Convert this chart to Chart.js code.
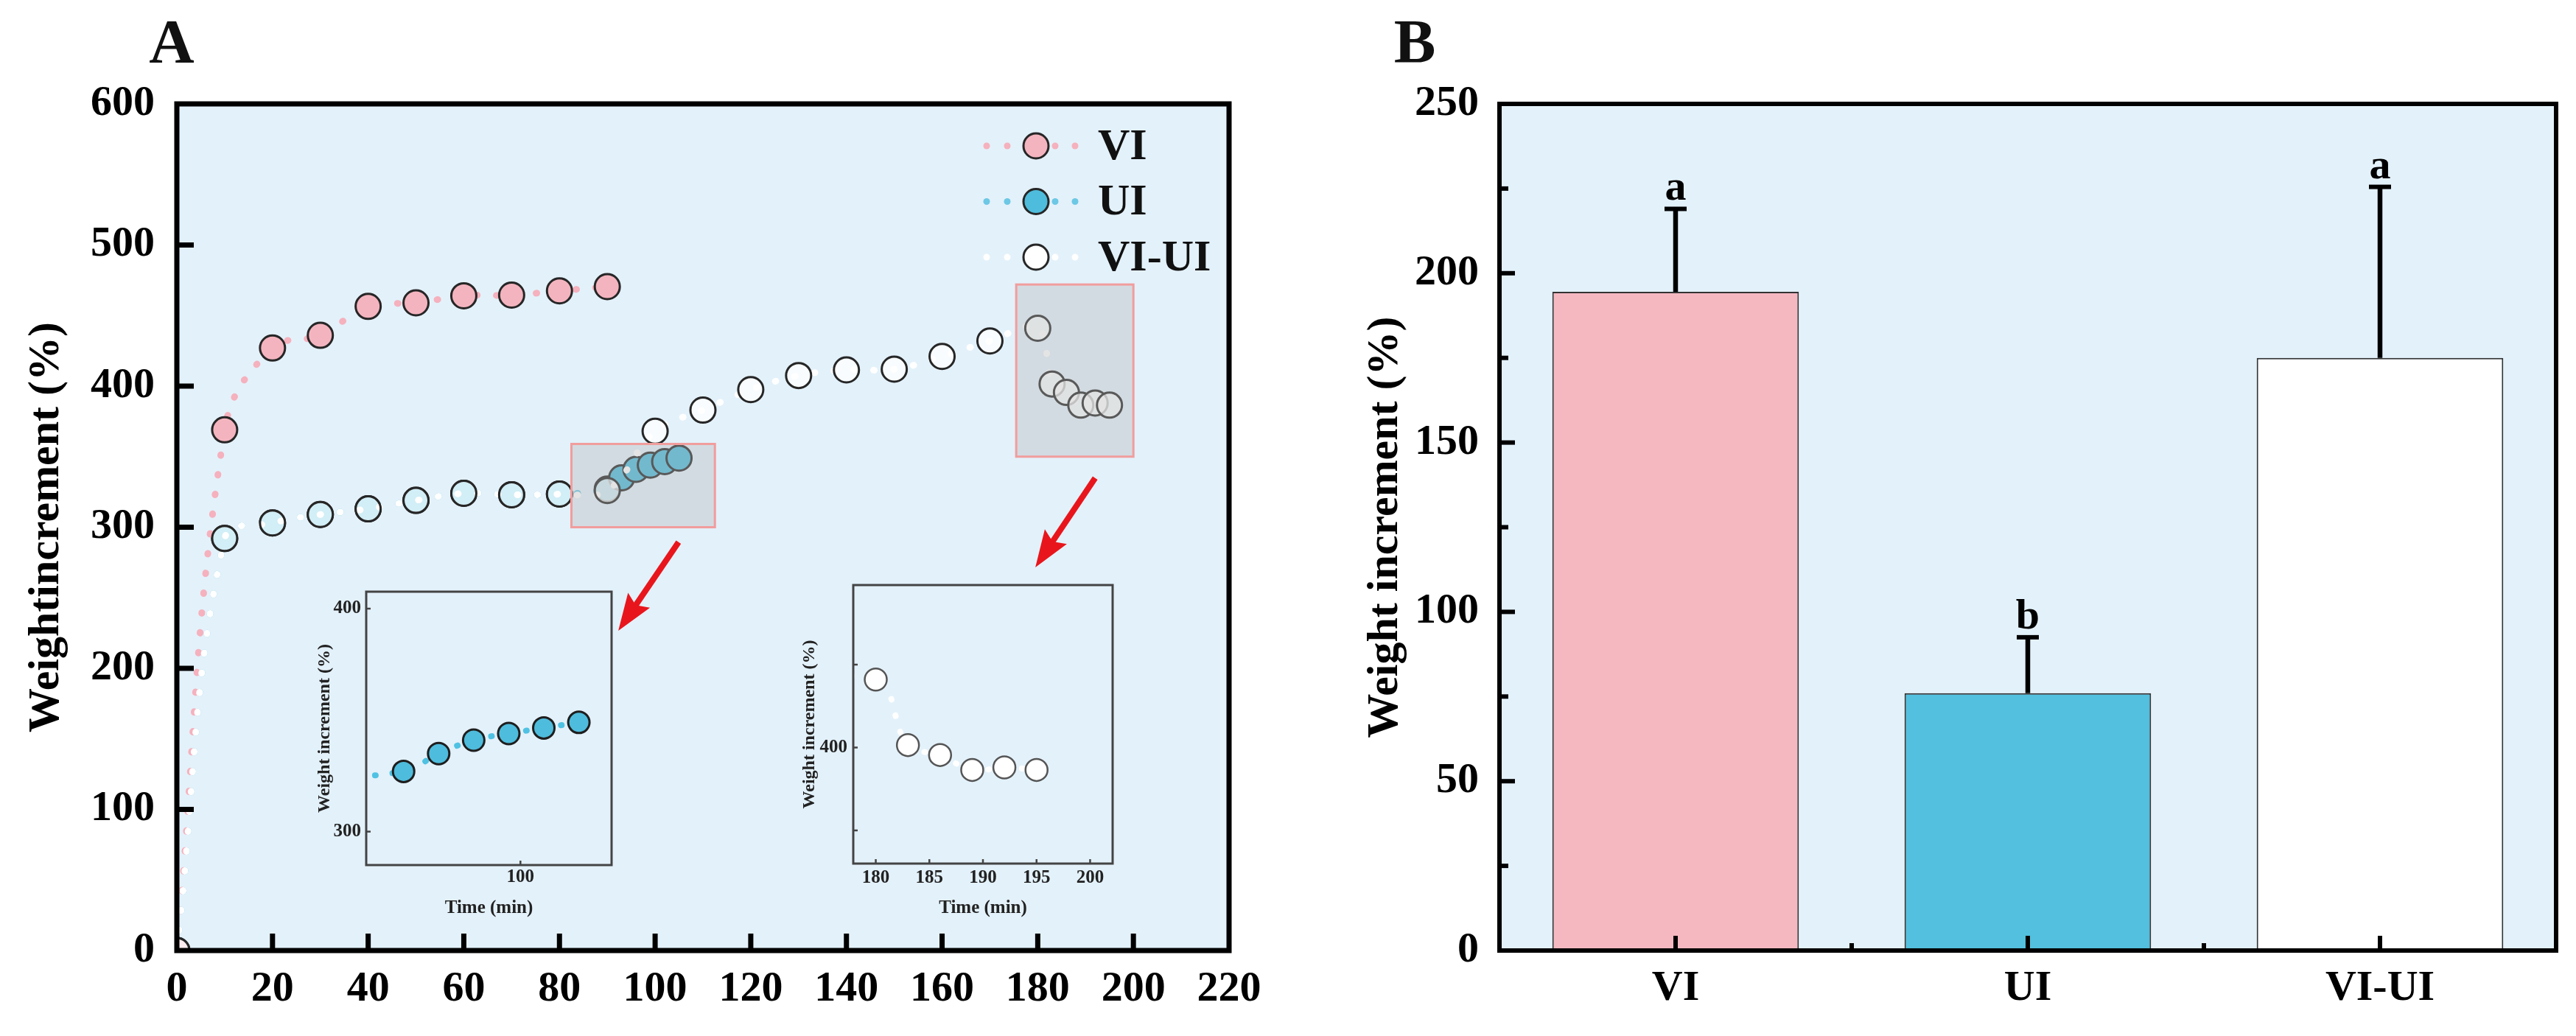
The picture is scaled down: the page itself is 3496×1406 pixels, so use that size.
<!DOCTYPE html>
<html><head><meta charset="utf-8">
<script src="https://cdn.jsdelivr.net/npm/chart.js@4.4.1/dist/chart.umd.min.js"></script>
<style>
html,body{margin:0;padding:0;background:#fff;width:3496px;height:1406px;overflow:hidden}
canvas{position:absolute}
</style></head><body>
<canvas id="cA" width="1760" height="1406" style="left:0;top:0;width:1760px;height:1406px"></canvas>
<canvas id="cI1" width="460" height="480" style="left:400px;top:780px;width:460px;height:480px"></canvas>
<canvas id="cI2" width="480" height="490" style="left:1060px;top:770px;width:480px;height:490px"></canvas>
<canvas id="cB" width="1736" height="1406" style="left:1760px;top:0;width:1736px;height:1406px"></canvas>
<script>
// ---------------- DATA ----------------
const SERIES_NAMES = ['VI', 'UI', 'VI-UI'];
const TIME_VI   = [0, 10, 20, 30, 40, 50, 60, 70, 80, 90];
const WI_VI     = [0, 369, 427, 436, 456.5, 459, 464, 464.5, 467.5, 470.5];
const TIME_UI   = [0, 10, 20, 30, 40, 50, 60, 70, 80, 90, 93, 96, 99, 102, 105];
const WI_UI     = [0, 292, 303, 309, 313, 319, 324, 323, 323.5, 327, 335, 341, 344, 346.5, 349];
const TIME_VIUI = [0, 10, 20, 30, 40, 50, 60, 70, 80, 90, 100, 110, 120, 130, 140, 150, 160, 170, 180, 183, 186, 189, 192, 195];
const WI_VIUI   = [0, 292, 303, 309, 313, 319, 324, 323, 323.5, 326, 368, 383, 397.5, 407.5, 411.5, 412, 421, 432, 441, 401.5, 395.5, 386.5, 388, 386.5];

const X_TICKS_A = [0, 20, 40, 60, 80, 100, 120, 140, 160, 180, 200, 220];
const Y_TICKS_A = [0, 100, 200, 300, 400, 500, 600];
const INSET1_X_TICKS = [100];
const INSET1_Y_TICKS = [300, 400];
const INSET2_X_TICKS = [180, 185, 190, 195, 200];
const INSET2_Y_TICKS = [350, 400, 450];
const INSET2_Y_LABELS = ['', '400', ''];

const BAR_CATEGORIES = ['VI', 'UI', 'VI-UI'];
const BAR_MEANS   = [194.5, 76, 175];
const BAR_SD      = [24.5, 16.5, 50.5];
const BAR_LETTERS = ['a', 'b', 'a'];
const Y_TICKS_B   = [0, 50, 100, 150, 200, 250];

// ---------------- STYLE / LAYOUT ----------------
const FONT = "'Liberation Serif', 'Times New Roman', serif";
const PLOT_BG = '#e3f1fa';
const ZOOM_BOXES = [
  {x0: 82.5, x1: 112.5, y0: 300, y1: 359},
  {x0: 175.5, x1: 200, y0: 350, y1: 472}
];
const ARROWS = [
  {from: [104.9, 289.4], to: [92.3, 226.6]},
  {from: [192.0, 334.9], to: [179.5, 271.6]}
];

Chart.defaults.font.family = FONT;
Chart.defaults.font.weight = 'bold';
Chart.defaults.color = '#000';

const pts = (xs, ys) => xs.map((x, i) => ({x: x, y: ys[i]}));
const setTicks = (arr) => (scale) => { scale.ticks = arr.map(v => ({value: v})); };

function seg(ctx, x1, y1, x2, y2, w) {
  ctx.lineWidth = w; ctx.beginPath(); ctx.moveTo(x1, y1); ctx.lineTo(x2, y2); ctx.stroke();
}

const framePlugin = {
  id: 'frameTicks',
  beforeDatasetsDraw(chart, args, o) {
    const {ctx, chartArea: a} = chart;
    ctx.save(); ctx.fillStyle = o.bg;
    ctx.fillRect(a.left, a.top, a.right - a.left, a.bottom - a.top);
    ctx.restore();
  },
  afterDraw(chart, args, o) {
    const {ctx, chartArea: a} = chart;
    const xs = chart.scales.x, ys = chart.scales.y;
    ctx.save();
    ctx.strokeStyle = o.color; ctx.lineCap = 'butt';
    const xp = xs.ticks.map((t, i) => xs.getPixelForTick(i));
    xp.forEach(p => { if (p > a.left + 3 && p < a.right - 3) seg(ctx, p, a.bottom, p, a.bottom - o.xLen, o.tickW); });
    if (o.xMinor) {
      for (let i = 0; i < xp.length - 1; i++) {
        const p = (xp[i] + xp[i + 1]) / 2;
        seg(ctx, p, a.bottom, p, a.bottom - o.xMinor, o.tickW);
      }
    }
    const yp = ys.ticks.map((t, i) => ys.getPixelForTick(i));
    yp.forEach(p => { if (p > a.top + 3 && p < a.bottom - 3) seg(ctx, a.left, p, a.left + o.yLen, p, o.tickW); });
    if (o.yMinor) {
      for (let i = 0; i < yp.length - 1; i++) {
        const p = (yp[i] + yp[i + 1]) / 2;
        seg(ctx, a.left, p, a.left + o.yMinor, p, o.tickW);
      }
    }
    ctx.lineWidth = o.frameW; ctx.lineJoin = 'miter';
    ctx.strokeRect(a.left, a.top, a.right - a.left, a.bottom - a.top);
    if (o.letter) {
      ctx.fillStyle = '#111'; ctx.font = 'bold 85px ' + FONT;
      ctx.textAlign = 'center'; ctx.textBaseline = 'alphabetic';
      ctx.fillText(o.letter.text, o.letter.x, o.letter.y);
    }
    ctx.restore();
  }
};

// annotations for panel A: zoom boxes, arrows, legend
const annotPlugin = {
  id: 'annotA',
  afterDatasetsDraw(chart) {
    const {ctx} = chart;
    const xs = chart.scales.x, ys = chart.scales.y;
    ctx.save();
    ZOOM_BOXES.forEach(b => {
      const x0 = xs.getPixelForValue(b.x0), x1 = xs.getPixelForValue(b.x1);
      const y0 = ys.getPixelForValue(b.y1), y1 = ys.getPixelForValue(b.y0);
      ctx.fillStyle = 'rgba(181,181,181,0.36)';
      ctx.fillRect(x0, y0, x1 - x0, y1 - y0);
      ctx.strokeStyle = '#f19d9d'; ctx.lineWidth = 3;
      ctx.strokeRect(x0, y0, x1 - x0, y1 - y0);
    });
    ARROWS.forEach(ar => {
      const fx = xs.getPixelForValue(ar.from[0]), fy = ys.getPixelForValue(ar.from[1]);
      const tx = xs.getPixelForValue(ar.to[0]), ty = ys.getPixelForValue(ar.to[1]);
      const ang = Math.atan2(ty - fy, tx - fx);
      const hl = 50, hw = 18;
      const bx = tx - hl * Math.cos(ang), by = ty - hl * Math.sin(ang);
      ctx.strokeStyle = '#e8161c'; ctx.fillStyle = '#e8161c'; ctx.lineCap = 'butt';
      seg(ctx, fx, fy, bx + 10 * Math.cos(ang), by + 10 * Math.sin(ang), 8);
      ctx.beginPath();
      ctx.moveTo(tx, ty);
      ctx.lineTo(bx - hw * Math.sin(ang), by + hw * Math.cos(ang));
      ctx.lineTo(bx + 8 * Math.cos(ang), by + 8 * Math.sin(ang));
      ctx.lineTo(bx + hw * Math.sin(ang), by - hw * Math.cos(ang));
      ctx.closePath(); ctx.fill();
    });
    ctx.restore();
  },
  afterDraw(chart) {
    const {ctx} = chart;
    const order = [0, 1, 2];
    const lx = 1406, ly0 = 198, dy = 75.5;
    ctx.save();
    order.forEach((di, k) => {
      const ds = chart.data.datasets[di];
      const y = ly0 + k * dy;
      ctx.fillStyle = ds.borderColor;
      [-67, -39, 26, 53].forEach(off => { ctx.beginPath(); ctx.arc(lx + off, y, 4.5, 0, Math.PI * 2); ctx.fill(); });
      ctx.beginPath(); ctx.arc(lx, y, 17, 0, Math.PI * 2);
      ctx.fillStyle = ds.legendFill; ctx.fill();
      ctx.lineWidth = 3; ctx.strokeStyle = '#262626'; ctx.stroke();
      ctx.fillStyle = '#111'; ctx.font = 'bold 60px ' + FONT;
      ctx.textAlign = 'left'; ctx.textBaseline = 'middle';
      ctx.fillText(ds.label, lx + 84, y + 2);
    });
    ctx.restore();
  }
};

// ---------------- PANEL A ----------------
const lineDs = (label, xs, ys, lineColor, fill, border, order, legendFill) => ({
  label: label, data: pts(xs, ys), order: order, legendFill: legendFill,
  borderColor: lineColor, borderWidth: 9, borderDash: [1, 26], borderCapStyle: 'round',
  tension: 0.4, fill: false, clip: 0,
  pointRadius: 17, pointBackgroundColor: fill, pointBorderColor: border, pointBorderWidth: 3,
  pointHoverRadius: 17
});

new Chart(document.getElementById('cA'), {
  type: 'line',
  data: {
    datasets: [
      lineDs(SERIES_NAMES[0], TIME_VI, WI_VI, '#f5b1bd', '#f4b4bf', '#262626', 1, '#f4b4bf'),
      lineDs(SERIES_NAMES[1], TIME_UI, WI_UI, '#6cc8e5', '#4ebcdc', '#262626', 2, '#4ebcdc'),
      lineDs(SERIES_NAMES[2], TIME_VIUI, WI_VIUI, '#ffffff', 'rgba(255,255,255,0.75)', '#262626', 0, '#ffffff')
    ]
  },
  options: {
    responsive: false, animation: false, devicePixelRatio: 1,
    layout: {padding: {left: 0, top: 141, right: 92, bottom: 0}},
    plugins: {
      legend: {display: false}, tooltip: {enabled: false},
      frameTicks: {bg: PLOT_BG, color: '#000', tickW: 7, xLen: 23, yLen: 23, frameW: 7,
                   letter: {text: 'A', x: 233, y: 85}}
    },
    scales: {
      x: {
        type: 'linear', min: 0, max: 220,
        afterBuildTicks: setTicks(X_TICKS_A),
        afterFit: (s) => { s.height = 116; },
        grid: {display: false, drawTicks: false}, border: {display: false},
        ticks: {padding: 24, font: {size: 58, weight: 'bold', lineHeight: 1}, color: '#000', maxRotation: 0}
      },
      y: {
        type: 'linear', min: 0, max: 600,
        afterBuildTicks: setTicks(Y_TICKS_A),
        afterFit: (s) => { s.width = 240; },
        grid: {display: false, drawTicks: false}, border: {display: false},
        ticks: {padding: 30, font: {size: 58, weight: 'bold', lineHeight: 1}, color: '#000'},
        title: {display: true, text: 'Weightincrement (%)', color: '#000',
                font: {size: 60, weight: 'bold', lineHeight: 1}, padding: {top: 33, bottom: 0}}
      }
    }
  },
  plugins: [framePlugin, annotPlugin]
});

// ---------------- INSETS ----------------
function insetChart(id, ds, xmin, xmax, ymin, ymax, xt, yt, ylabels, pad, yW, xH, pads) {
  return new Chart(document.getElementById(id), {
    type: 'line',
    data: {datasets: [ds]},
    options: {
      responsive: false, animation: false, devicePixelRatio: 1,
      layout: {padding: pad},
      plugins: {legend: {display: false}, tooltip: {enabled: false},
        frameTicks: {bg: PLOT_BG, color: '#444', tickW: 2.5, xLen: 6, yLen: 6, frameW: 3}},
      scales: {
        x: {type: 'linear', min: xmin, max: xmax, afterBuildTicks: setTicks(xt),
          afterFit: (s) => { s.height = xH; },
          grid: {display: false, drawTicks: false}, border: {display: false},
          ticks: {padding: pads.xl, font: {size: 25, weight: 'bold', lineHeight: 1}, color: '#222', maxRotation: 0},
          title: {display: true, text: 'Time (min)', color: '#222', font: {size: 25, weight: 'bold', lineHeight: 1},
                  padding: {top: 0, bottom: pads.xt}}},
        y: {type: 'linear', min: ymin, max: ymax, afterBuildTicks: setTicks(yt),
          afterFit: (s) => { s.width = yW; },
          grid: {display: false, drawTicks: false}, border: {display: false},
          ticks: {padding: pads.yl, font: {size: 25, weight: 'bold', lineHeight: 1}, color: '#222',
                  callback: (v, i) => ylabels ? ylabels[i] : String(v)},
          title: {display: true, text: 'Weight increment (%)', color: '#222', font: {size: 24, weight: 'bold', lineHeight: 1},
                  padding: {top: pads.yt, bottom: 0}}}
      }
    },
    plugins: [framePlugin]
  });
}

insetChart('cI1', {
  label: SERIES_NAMES[1], data: pts(TIME_UI, WI_UI),
  borderColor: '#4fc2e3', borderWidth: 8, borderDash: [1, 23], borderCapStyle: 'round',
  tension: 0.4, clip: 0, pointRadius: 14.5, pointBackgroundColor: '#4ebcdc',
  pointBorderColor: '#1e1e1e', pointBorderWidth: 3
}, 86.8, 107.8, 285, 407.6, INSET1_X_TICKS, INSET1_Y_TICKS, null,
  {left: 0, top: 23, right: 30, bottom: 0}, 97, 86, {xl: 4.5, xt: 14.5, yl: 7, yt: 29});

insetChart('cI2', {
  label: SERIES_NAMES[2], data: pts(TIME_VIUI, WI_VIUI),
  borderColor: '#ffffff', borderWidth: 8, borderDash: [1, 22], borderCapStyle: 'round',
  tension: 0.4, clip: 0, pointRadius: 15, pointBackgroundColor: '#ffffff',
  pointBorderColor: '#555', pointBorderWidth: 2.5
}, 177.9, 202.1, 330, 498, INSET2_X_TICKS, INSET2_Y_TICKS, INSET2_Y_LABELS,
  {left: 0, top: 24, right: 30, bottom: 0}, 98, 88, {xl: 7, xt: 14.5, yl: 8, yt: 27});

// ---------------- PANEL B ----------------
const errPlugin = {
  id: 'errBars',
  afterDatasetsDraw(chart) {
    const {ctx} = chart;
    const ys = chart.scales.y;
    const meta = chart.getDatasetMeta(0);
    ctx.save();
    ctx.strokeStyle = '#000'; ctx.fillStyle = '#000'; ctx.lineCap = 'butt';
    meta.data.forEach((bar, i) => {
      const top = ys.getPixelForValue(BAR_MEANS[i] + BAR_SD[i]);
      seg(ctx, bar.x, bar.y, bar.x, top, 6.5);
      seg(ctx, bar.x - 15, top, bar.x + 15, top, 6);
      ctx.font = 'bold 58px ' + FONT; ctx.textAlign = 'center'; ctx.textBaseline = 'alphabetic';
      ctx.fillText(BAR_LETTERS[i], bar.x, top - 12);
    });
    ctx.restore();
  }
};

new Chart(document.getElementById('cB'), {
  type: 'bar',
  data: {
    labels: BAR_CATEGORIES,
    datasets: [{
      label: 'Weight increment', data: BAR_MEANS,
      backgroundColor: ['#f5b8c1', '#52c0de', '#ffffff'],
      borderColor: '#333', borderWidth: 2, borderSkipped: false,
      categoryPercentage: 1.0, barPercentage: 0.7
    }]
  },
  options: {
    responsive: false, animation: false, devicePixelRatio: 1,
    layout: {padding: {left: 0, top: 141, right: 27, bottom: 0}},
    plugins: {
      legend: {display: false}, tooltip: {enabled: false},
      frameTicks: {bg: PLOT_BG, color: '#000', tickW: 6, xLen: 20, xMinor: 10, yLen: 21, yMinor: 12, frameW: 6,
                   letter: {text: 'B', x: 160, y: 85}}
    },
    scales: {
      x: {
        type: 'category',
        afterFit: (s) => { s.height = 116; },
        grid: {display: false, drawTicks: false}, border: {display: false},
        ticks: {padding: 23, font: {size: 58, weight: 'bold', lineHeight: 1}, color: '#000', maxRotation: 0}
      },
      y: {
        type: 'linear', min: 0, max: 250,
        afterBuildTicks: setTicks(Y_TICKS_B),
        afterFit: (s) => { s.width = 275; },
        grid: {display: false, drawTicks: false}, border: {display: false},
        ticks: {padding: 28, font: {size: 58, weight: 'bold', lineHeight: 1}, color: '#000'},
        title: {display: true, text: 'Weight increment (%)', color: '#000',
                font: {size: 60, weight: 'bold', lineHeight: 1}, padding: {top: 90, bottom: 0}}
      }
    }
  },
  plugins: [framePlugin, errPlugin]
});
</script>
</body></html>
